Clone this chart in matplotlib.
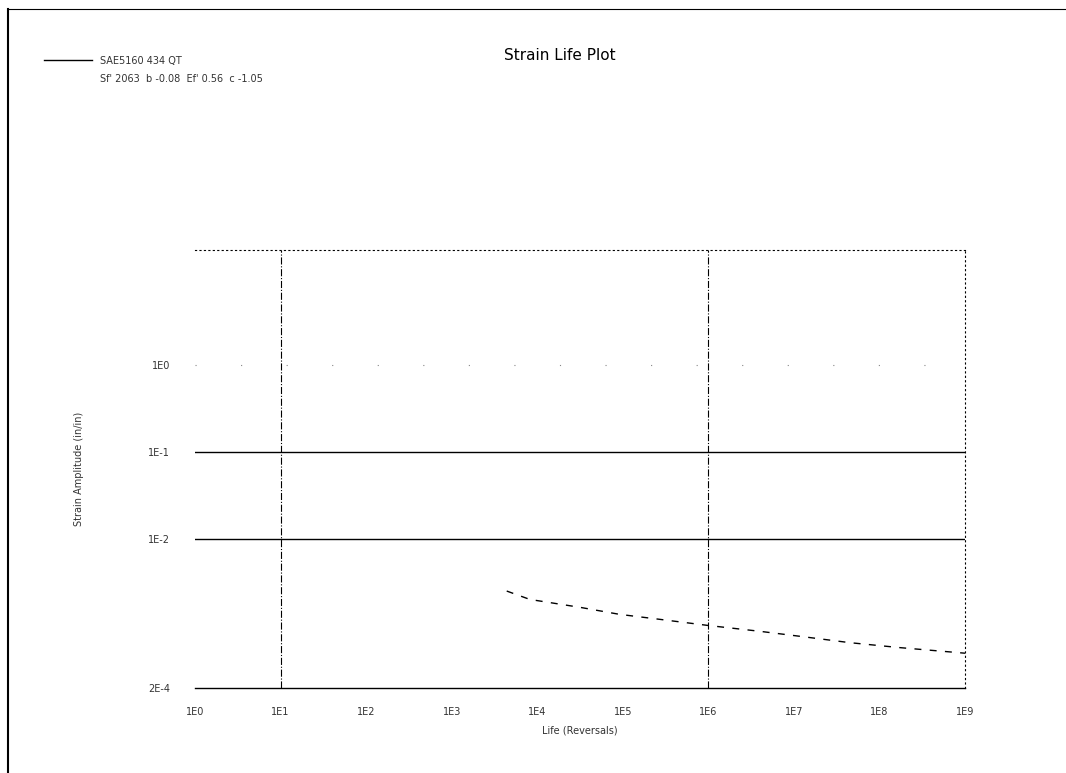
import numpy as np
import matplotlib.pyplot as plt
from matplotlib.lines import Line2D

# Strain life curve
life = [4.4e3, 8.2e3, 3.2e4, 9.2e4, 2.7e5, 9.8e5, 4.0e6, 1.18e7, 4.5e7, 1.7e8, 1.0e9]
strain = [2.57e-3, 2.06e-3, 1.67e-3, 1.39e-3, 1.22e-3, 1.04e-3, 8.9e-4, 7.8e-4, 6.6e-4, 5.8e-4, 5.0e-4]

series_name = 'SAE5160 434 QT'
params_text = "Sf' 2063  b -0.08  Ef' 0.56  c -1.05"

xticks = [10.0**k for k in range(10)]
xlabels = ['1E%d' % k for k in range(10)]
yticks = [1.0, 1e-1, 1e-2, 2e-4]
ylabels = ['1E0', '1E-1', '1E-2', '2E-4']

fig = plt.figure(figsize=(10.66, 7.73), dpi=100)
ax = fig.add_axes([195/1066, 1-688/773, (965-195)/1066, (688-250)/773])

ax.plot(life, strain, color='k', lw=1.0, ls=(0, (5, 6)))

ax.set_xscale('log')
ax.set_yscale('log')
ax.set_xlim(1, 1e9)
ax.set_ylim(2e-4, 10**1.31)
ax.set_xticks(xticks)
ax.set_xticklabels(xlabels)
ax.set_yticks(yticks)
ax.set_yticklabels(ylabels)
ax.minorticks_off()
ax.tick_params(axis='y', length=0, labelsize=7, colors='#333333', pad=18)
ax.tick_params(axis='x', length=0, labelsize=7, colors='#333333', pad=14)

# grid lines
ax.axhline(1e-1, color='k', lw=1.0)
ax.axhline(1e-2, color='k', lw=1.0)
ax.axhline(1.0, color='#888888', lw=0.8, ls=(0, (1, 40)))
ax.axvline(10, color='k', lw=0.8, ls='-.')
ax.axvline(1e6, color='k', lw=0.8, ls='-.')

ax.spines['left'].set_visible(False)
ax.spines['bottom'].set_linewidth(1.0)
ax.spines['top'].set_linestyle((0, (1, 3)))
ax.spines['top'].set_linewidth(0.8)
ax.spines['right'].set_linestyle((0, (1, 3)))
ax.spines['right'].set_linewidth(0.8)

ax.set_xlabel('Life (Reversals)', fontsize=7, color='#333333', labelpad=6)
ax.set_ylabel('Strain Amplitude (in/in)', fontsize=7, color='#333333', labelpad=46)

fig.text(0.525, 1-55/773, 'Strain Life Plot', ha='center', va='center', fontsize=11)

handles = [Line2D([], [], color='k', lw=1.0), Line2D([], [], color='none')]
fig.legend(handles, [series_name, params_text], loc='upper left',
           bbox_to_anchor=(35/1066, 1-47/773), frameon=False, fontsize=7,
           handlelength=5, labelspacing=0.9, labelcolor='#333333')

# page border from the scan
fig.add_artist(Line2D([8/1066, 8/1066], [0, 1-9/773], color='k', lw=1.5))
fig.add_artist(Line2D([8/1066, 1], [1-9/773, 1-9/773], color='k', lw=0.8))

fig.savefig('out.png', dpi=100)
